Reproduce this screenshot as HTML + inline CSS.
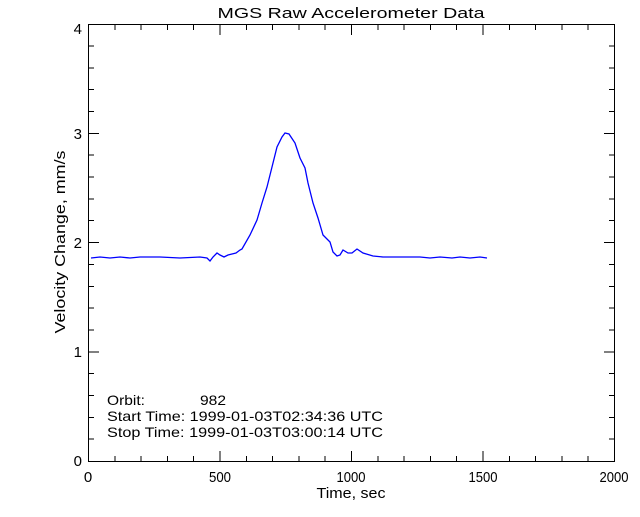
<!DOCTYPE html>
<html><head><style>
body{margin:0;background:#fff;}
svg text{font-family:"Liberation Sans",sans-serif;fill:#000;}
</style></head><body>
<svg width="640" height="512" viewBox="0 0 640 512" xmlns="http://www.w3.org/2000/svg">
<rect width="640" height="512" fill="#fff"/>
<g stroke="#000" stroke-width="1" fill="none" shape-rendering="crispEdges">
<rect x="88.5" y="24.5" width="526" height="437"/>
<path d="M88.5 461v-10M114.8 461v-5M141.1 461v-5M167.4 461v-5M193.7 461v-5M220 461v-10M246.3 461v-5M272.6 461v-5M298.9 461v-5M325.2 461v-5M351.5 461v-10M377.8 461v-5M404.1 461v-5M430.4 461v-5M456.7 461v-5M483 461v-10M509.3 461v-5M535.6 461v-5M561.9 461v-5M588.2 461v-5"/>
<path d="M88.5 25v10M114.8 25v5M141.1 25v5M167.4 25v5M193.7 25v5M220 25v10M246.3 25v5M272.6 25v5M298.9 25v5M325.2 25v5M351.5 25v10M377.8 25v5M404.1 25v5M430.4 25v5M456.7 25v5M483 25v10M509.3 25v5M535.6 25v5M561.9 25v5M588.2 25v5"/>
<path d="M89 439.2h5M89 417.4h5M89 395.5h5M89 373.7h5M89 351.8h10M89 330h5M89 308.1h5M89 286.3h5M89 264.4h5M89 242.6h10M89 220.7h5M89 198.9h5M89 177h5M89 155.2h5M89 133.3h10M89 111.5h5M89 89.6h5M89 67.8h5M89 45.9h5"/>
<path d="M614 439.2h-5M614 417.4h-5M614 395.5h-5M614 373.7h-5M614 351.8h-10M614 330h-5M614 308.1h-5M614 286.3h-5M614 264.4h-5M614 242.6h-10M614 220.7h-5M614 198.9h-5M614 177h-5M614 155.2h-5M614 133.3h-10M614 111.5h-5M614 89.6h-5M614 67.8h-5M614 45.9h-5"/>
</g>
<polyline fill="none" stroke="#0000ff" stroke-width="1.3" points="91,258 100,257 110,258 120,257 130,258 140,257 160,257 180,258 200,257 207,258 210,261 213,257 217,253 220,255 224,257 228,255 232,254 236,253 240,250 242,249 250,235 257,220 262,203 267,187 272,167 277,147 282,137 285,133 289,134 295,143 300,158 305,168 308,183 313,203 318,218 323,235 330,242 333,252 337,256 340,255 343,250 348,253 352,253 357,249 363,253 373,256 383,257 400,257 420,257 430,258 440,257 452,258 460,257 470,258 480,257 487,258"/>
<g font-size="15" text-anchor="middle">
<text x="351" y="18" textLength="267" lengthAdjust="spacingAndGlyphs">MGS Raw Accelerometer Data</text>
<text x="88" y="482">0</text>
<text x="220" y="482" textLength="22" lengthAdjust="spacingAndGlyphs">500</text>
<text x="351" y="482" textLength="29" lengthAdjust="spacingAndGlyphs">1000</text>
<text x="483" y="482" textLength="29" lengthAdjust="spacingAndGlyphs">1500</text>
<text x="614" y="482" textLength="29" lengthAdjust="spacingAndGlyphs">2000</text>
<text x="351" y="498" textLength="69" lengthAdjust="spacingAndGlyphs">Time, sec</text>
<text transform="translate(65,242) rotate(-90)" textLength="183" lengthAdjust="spacingAndGlyphs">Velocity Change, mm/s</text>
</g>
<g font-size="15" text-anchor="end">
<text x="82" y="466">0</text>
<text x="82" y="357">1</text>
<text x="82" y="248">2</text>
<text x="82" y="139">3</text>
<text x="82" y="34">4</text>
</g>
<g font-size="14">
<text x="107" y="405" textLength="38" lengthAdjust="spacingAndGlyphs">Orbit:</text>
<text x="200" y="405" textLength="26" lengthAdjust="spacingAndGlyphs">982</text>
<text x="107" y="421" textLength="276" lengthAdjust="spacingAndGlyphs">Start Time: 1999-01-03T02:34:36 UTC</text>
<text x="107" y="437" textLength="276" lengthAdjust="spacingAndGlyphs">Stop Time: 1999-01-03T03:00:14 UTC</text>
</g>
</svg>
</body></html>
